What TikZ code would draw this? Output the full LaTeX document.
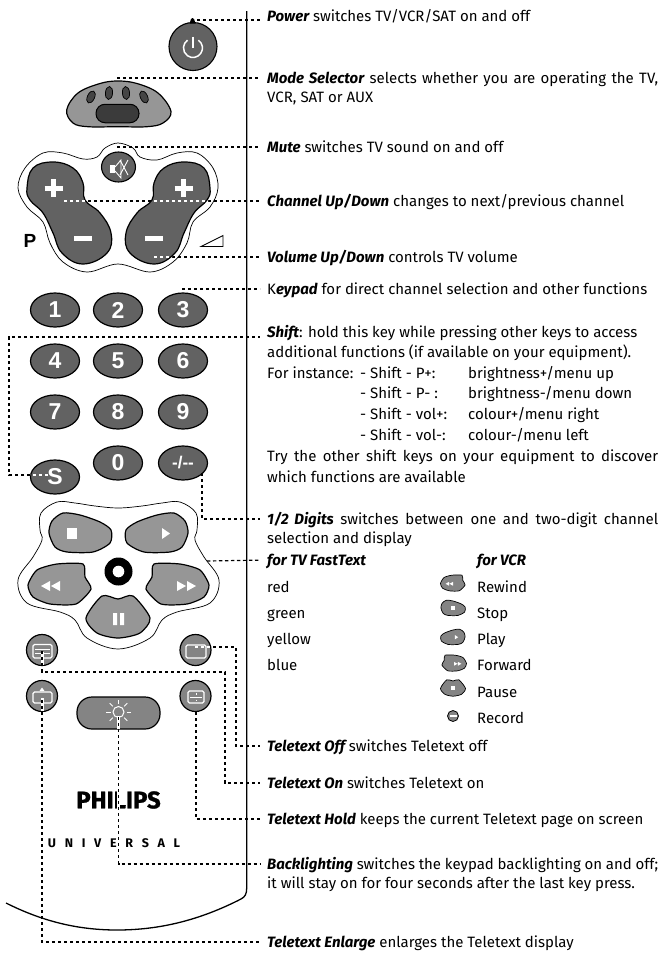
\documentclass[tikz,border=0pt]{standalone}
\usepackage{fontspec}
\setmainfont{Fira Sans}
\newfontfamily\arialfont{Liberation Sans}
\usetikzlibrary{shapes.geometric, positioning}
\definecolor{keydark}{RGB}{98, 98, 98}
\definecolor{keygray}{RGB}{150, 150, 150}
\definecolor{keymid}{RGB}{132, 132, 132}

% key outlines, in reference pixels
\def\chanshape{plot[smooth cycle, tension=0.7] coordinates {(27,188) (33,168) (53,162) (73,168) (83,183) (85,200) (100,213) (111,233) (107,253) (83,264) (62,253) (53,233) (43,213) (30,200)}}
\def\outershape{(118,143) (133,148) (140,157) (157,160) (177,153) (197,153) (213,168) (218,188) (210,207) (193,222) (187,243) (173,262) (150,272) (118,264) (87,272) (63,262) (50,243) (43,222) (27,207) (18,188) (25,168) (43,153) (63,153) (83,159) (97,157) (105,148)}
\def\transshape{(118,508) (95,506) (75,503) (57,502) (41,513) (40,530) (42,540) (33,557) (18,580) (27,603) (60,612) (75,620) (87,638) (118,649) (150,638) (162,620) (177,612) (210,603) (219,580) (204,557) (195,540) (197,530) (196,513) (180,502) (162,503) (142,506)}
\def\stopshape{plot[smooth cycle, tension=0.45] coordinates {(49,533) (52,521) (63,513) (80,515) (100,522) (111,530) (110,543) (93,552) (67,552) (55,547)}}
\def\rewshape{plot[smooth cycle, tension=0.4] coordinates {(28,585) (37,570) (57,564) (83,564) (85,577) (91,589) (76,604) (50,604) (33,597)}}
\def\pauseshape{plot[smooth cycle, tension=0.45] coordinates {(102,596) (118,599) (133,596) (150,618) (140,633) (118,638) (97,633) (86,618)}}
\def\fitline#1{\makebox[391pt][s]{#1}}
\def\bi#1{{\bfseries\itshape #1}}

\begin{document}
\begin{tikzpicture}[
    x=1pt, y=-1pt,
    lbl/.style={anchor=west, inner sep=0pt, text height=15pt, text depth=5pt, font=\fontsize{15}{17}\selectfont},
    leader/.style={line width=1.2pt, dash pattern=on 3.4pt off 2.6pt, shorten >=7pt},
    leaderw/.style={line width=1.2pt, dash pattern=on 3.4pt off 2.6pt, white},
    numkey/.style={ellipse, draw, line width=1.2pt, fill=keydark, minimum width=49pt, minimum height=34pt, inner sep=0pt, text=white, font=\arialfont\bfseries\fontsize{23}{25}\selectfont},
    roundkey/.style={circle, draw, line width=1.2pt, fill=keymid, minimum size=31pt, inner sep=0pt},
    keyface/.style={draw, line width=1.2pt, fill=keygray},
    darkface/.style={draw, line width=1.2pt, fill=keydark},
    icon/.style={draw=white, line width=1.2pt, rounded corners=1.5pt}
]
    \useasboundingbox (0,0) rectangle (662,954);

    % Body
    \draw[line width=1.3pt] (246.7,11) -- (246.7,888) .. controls (246.7,894) and (245,897) .. (241,899) .. controls (200,920) and (160,930) .. (117,930) .. controls (75,930) and (40,920) .. (6,903);

    % Power
    \node[circle, draw, line width=1.1pt, fill=keydark, minimum size=48pt, inner sep=0pt] (power) at (193,46.5) {};
    \fill (189.5,23.5) -- (191,19) -- (192.5,18) -- (194,19) -- (195.5,23.5) -- cycle;
    \draw[white, line width=1.5pt] (198.4,40.2) arc[start angle=-55, end angle=235, radius=9.5];
    \draw[white, line width=1.7pt] (193,36.5) -- (193,48);

    % Mode Selector
    \draw[keyface] plot[smooth cycle, tension=0.6] coordinates {(66.7,110) (78,93) (100,83.5) (118,81) (137,83.5) (158,93) (171,111.5) (163,123) (147,126.7) (118,126.7) (88,126.7) (73,123)};
    \node[rectangle, draw, line width=1pt, fill=keydark!60!black, rounded corners=9pt, minimum width=43pt, minimum height=18.5pt, inner sep=0pt] (modekey) at (117.5,113.5) {};
    \foreach \xm/\ym/\rot in {91/97/-25, 109/93/-5, 126/93/5, 144/97/25}
        \draw[fill=keydark!70!black, line width=0.7pt, rotate around={\rot:(\xm,\ym)}] (\xm,\ym) ellipse (3.6 and 6.5);

    % Mute and channel/volume cluster
    \draw[line width=0.7pt] plot[smooth cycle, tension=0.6] coordinates {\outershape};
    \node[ellipse, draw, line width=1.1pt, fill=keydark, minimum width=34pt, minimum height=30pt, inner sep=0pt] (mute) at (118.5,167) {};
    \fill[white] (110,165) rectangle (115,173);
    \draw[white, line width=0.9pt] (115,167) -- (121,160) -- (121,178) -- (115,171);
    \draw[white, line width=0.9pt] (120,160) -- (128,175) (128,160) -- (120,175);
    \draw[darkface] \chanshape;
    \begin{scope}[shift={(237,0)}, xscale=-1]
        \draw[darkface] \chanshape;
    \end{scope}
    \draw[white, line width=5pt] (44.5,188) -- (62.5,188) (53.5,179) -- (53.5,197);
    \draw[white, line width=5pt] (174.5,188) -- (192.5,188) (183.5,179) -- (183.5,197);
    \draw[white, line width=5pt] (74,238.5) -- (92,238.5) (145,238.5) -- (163,238.5);
    \node[font=\arialfont\bfseries\fontsize{19}{20}\selectfont, inner sep=0pt] (plabel) at (30,240.5) {P};
    \draw[line width=0.9pt] (201,246.5) -- (223,235.5) -- (223,246.5) -- cycle;

    % Keypad
    \foreach \digit/\xk/\yk in {1/55/310, 2/118/310, 3/183/310, 4/55/361, 5/118/361, 6/183/361, 7/55/412, 8/118/412, 9/183/412, 0/118/463}
        \node[numkey] (key\digit) at (\xk,\yk) {\digit};
    \node[numkey] (keyS) at (55,477) {S};
    \node[numkey, font=\arialfont\bfseries\fontsize{17}{18}\selectfont] (keyD) at (183,463) {-/--};

    % Transport keys
    \draw[line width=0.7pt] plot[smooth cycle, tension=0.6] coordinates {\transshape};
    \draw[keyface] \stopshape;
    \draw[keyface] \rewshape;
    \draw[keyface] \pauseshape;
    \begin{scope}[shift={(237,0)}, xscale=-1]
        \draw[keyface] \stopshape;
        \draw[keyface] \rewshape;
    \end{scope}
    \fill[white] (67,528) rectangle (77,539);
    \fill[white] (162,528) -- (170,533.5) -- (162,539) -- cycle;
    \fill[white] (41,586) -- (50,581) -- (50,591) -- cycle (51,586) -- (60,581) -- (60,591) -- cycle;
    \fill[white] (196,586) -- (187,581) -- (187,591) -- cycle (186,586) -- (177,581) -- (177,591) -- cycle;
    \fill[white] (113,613) rectangle (117,625) (120,613) rectangle (124,625);
    \node[circle, fill=black, minimum size=28pt, inner sep=0pt] (record) at (118.5,571.5) {};
    \fill[white] (118.5,571.5) circle (5.8);

    % Teletext keys
    \node[roundkey] (ttxon) at (42,650) {};
    \node[roundkey] (ttxoff) at (195.5,650) {};
    \node[roundkey] (ttxenl) at (42,696) {};
    \node[roundkey] (ttxhold) at (195.5,696) {};
    \draw[icon] (33,644.5) rectangle (52,658);
    \draw[white, line width=1pt] (35,649) -- (50,649) (35,653) -- (50,653);
    \draw[icon] (186,645) rectangle (206,658);
    \draw[icon] (33,692) rectangle (52,703);
    \fill[white] (39.5,691) -- (42,687.5) -- (44.5,691) -- cycle;
    \draw[icon] (188,691) rectangle (204,703);
    \draw[white, line width=1pt] (190,697) -- (202,697) (196,693) -- (196,694.5) (196,699.5) -- (196,701);
    \node[rectangle, draw, line width=1.2pt, fill=keymid, rounded corners=15pt, minimum width=83pt, minimum height=32pt, inner sep=0pt] (light) at (118.5,713) {};
    \draw[white, line width=1pt] (118.5,712) circle (5.5);
    \foreach \ang in {0,45,135,180,225,270,315}
        \draw[white, line width=0.9pt] (118.5,712) ++(\ang:8) -- ++(\ang:4.5);
    \draw[white, line width=3.5pt] (118.5,716) -- (118.5,729);
    \draw[white, line width=3pt] (42,652) -- (42,665) (42,698) -- (42,711);

    % Brand
    \node[font=\bfseries\addfontfeature{FakeBold=1.2}\fontsize{24}{26}\selectfont, inner sep=0pt] (brand) at (118.5,800) {PHILIPS};
    \node[font=\bfseries\addfontfeature{LetterSpace=70}\fontsize{12.5}{14}\selectfont, inner sep=0pt] (model) at (114,843) {UNIVERSAL};

    % Texts
    \node[lbl] (txtpower) at (267,16) {\bi{Power} switches TV/VCR/SAT on and off};
    \node[lbl] (txtmode) at (267,78) {\fitline{\bi{Mode Selector} selects whether you are operating the TV,}};
    \node[lbl] (txtmodeb) at (267,97) {VCR, SAT or AUX};
    \node[lbl] (txtmute) at (267,147) {\bi{Mute} switches TV sound on and off};
    \node[lbl] (txtchan) at (267,201) {\bi{Channel Up/Down} changes to next/previous channel};
    \node[lbl] (txtvol) at (267,257) {\bi{Volume Up/Down} controls TV volume};
    \node[lbl] (txtpad) at (267,289) {K\bi{eypad} for direct channel selection and other functions};
    \node[lbl] (txtshift) at (267,332) {\bi{Shift}: hold this key while pressing other keys to access};
    \node[lbl] (txtshiftb) at (267,352) {additional functions (if available on your equipment).};
    \node[lbl] (txtshiftc) at (267,373) {\makebox[93pt][l]{For instance:}\makebox[108pt][l]{- Shift - P+:}brightness+/menu up};
    \node[lbl] (txtshiftd) at (267,393) {\makebox[93pt][l]{}\makebox[108pt][l]{- Shift - P- :}brightness-/menu down};
    \node[lbl] (txtshifte) at (267,414) {\makebox[93pt][l]{}\makebox[108pt][l]{- Shift - vol+:}colour+/menu right};
    \node[lbl] (txtshiftf) at (267,435) {\makebox[93pt][l]{}\makebox[108pt][l]{- Shift - vol-:}colour-/menu left};
    \node[lbl] (txtshiftg) at (267,456) {\fitline{Try the other shift keys on your equipment to discover}};
    \node[lbl] (txtshifth) at (267,477) {which functions are available};
    \node[lbl] (txtdig) at (267,519) {\fitline{\bi{1/2 Digits} switches between one and two-digit channel}};
    \node[lbl] (txtdigb) at (267,538) {selection and display};
    \node[lbl] (txtfast) at (267,560) {\bi{for TV FastText}};
    \node[lbl] (txtvcr) at (477,560) {\bi{for VCR}};
    \foreach \word/\yw in {red/587, green/613, yellow/639, blue/665}
        \node[lbl] (txt\word) at (267,\yw) {\word};
    \foreach \word/\yw in {Rewind/587, Stop/613, Play/639, Forward/665, Pause/692, Record/718}
        \node[lbl] (txt\word) at (477,\yw) {\word};
    \node[lbl] (txtoff) at (267,746) {\bi{Teletext Off} switches Teletext off};
    \node[lbl] (txton) at (267,783) {\bi{Teletext On} switches Teletext on};
    \node[lbl] (txthold) at (267,819) {\bi{Teletext Hold} keeps the current Teletext page on screen};
    \node[lbl] (txtback) at (267,864) {\fitline{\bi{Backlighting} switches the keypad backlighting on and off;}};
    \node[lbl] (txtbackb) at (267,883) {it will stay on for four seconds after the last key press.};
    \node[lbl] (txtenl) at (267,942) {\bi{Teletext Enlarge} enlarges the Teletext display};

    % Legend icons
    \begin{scope}[shift={(453,583)}, scale=0.39, shift={(-60,-584)}]
        \draw[fill=keymid, line width=0.7pt] \rewshape;
        \fill[white] (41,586) -- (50,581) -- (50,591) -- cycle (51,586) -- (60,581) -- (60,591) -- cycle;
    \end{scope}
    \begin{scope}[shift={(453,608)}, scale=0.39, shift={(-80,-533)}]
        \draw[fill=keymid, line width=0.7pt] \stopshape;
        \fill[white] (75,528) rectangle (85,539);
    \end{scope}
    \begin{scope}[shift={(453,637)}, scale=0.39, shift={(80,-533)}, xscale=-1]
        \draw[fill=keymid, line width=0.7pt] \stopshape;
        \fill[white] (75,528) -- (67,533.5) -- (75,539) -- cycle;
    \end{scope}
    \begin{scope}[shift={(454,663)}, scale=0.39, shift={(60,-584)}, xscale=-1]
        \draw[fill=keymid, line width=0.7pt] \rewshape;
        \fill[white] (41,586) -- (50,581) -- (50,591) -- cycle (51,586) -- (60,581) -- (60,591) -- cycle;
    \end{scope}
    \begin{scope}[shift={(453,688)}, scale=0.39, shift={(-118,-617)}]
        \draw[fill=keymid, line width=0.7pt] \pauseshape;
        \fill[white] (113,612) rectangle (123,623);
    \end{scope}
    \node[circle, draw, line width=0.8pt, fill=keymid, minimum size=11pt, inner sep=0pt] (recicon) at (453,716) {};
    \draw[white, line width=1.3pt] (449.5,716) -- (456.5,716);

    % Leaders
    \coordinate (powerend) at (267,20);
    \coordinate (shiftend) at (267,337);
    \coordinate (dighook) at (202,473);
    \draw[white, line width=3pt] (118.5,789) -- (118.5,811);
    \draw[leader] (197,20) -- (powerend);
    \draw[leader] (117,78) -- (txtmode.west);
    \draw[leader] (117,147) -- (txtmute.west);
    \draw[leader] (64,201) -- (txtchan.west);
    \draw[leaderw] (64,201) -- (85,201);
    \draw[leaderw] (154,201) -- (208,201);
    \draw[leader] (154,257) -- (txtvol.west);
    \draw[leaderw] (154,257) -- (172,257);
    \draw[leader] (182,289) -- (txtpad.west);
    \draw[leader] (48,475) -- (9,475) -- (9,337) -- (shiftend);
    \draw[leaderw] (48,475) -- (30,475);
    \draw[leader] (dighook) -- (202,519) -- (txtdig.west);
    \draw[leader] (207,561) -- (txtfast.west);
    \draw[leader] (195,647) -- (236,647) -- (236,746) -- (txtoff.west);
    \draw[leaderw] (195,647) -- (211,647);
    \draw[leader] (42,651) -- (42,672) -- (225,672) -- (225,783) -- (txton.west);
    \draw[leader] (196,712) -- (196,819) -- (txthold.west);
    \draw[leader] (118.5,717) -- (118.5,864) -- (txtback.west);
    \draw[leader] (42,700) -- (42,942) -- (txtenl.west);
\end{tikzpicture}
\end{document}
